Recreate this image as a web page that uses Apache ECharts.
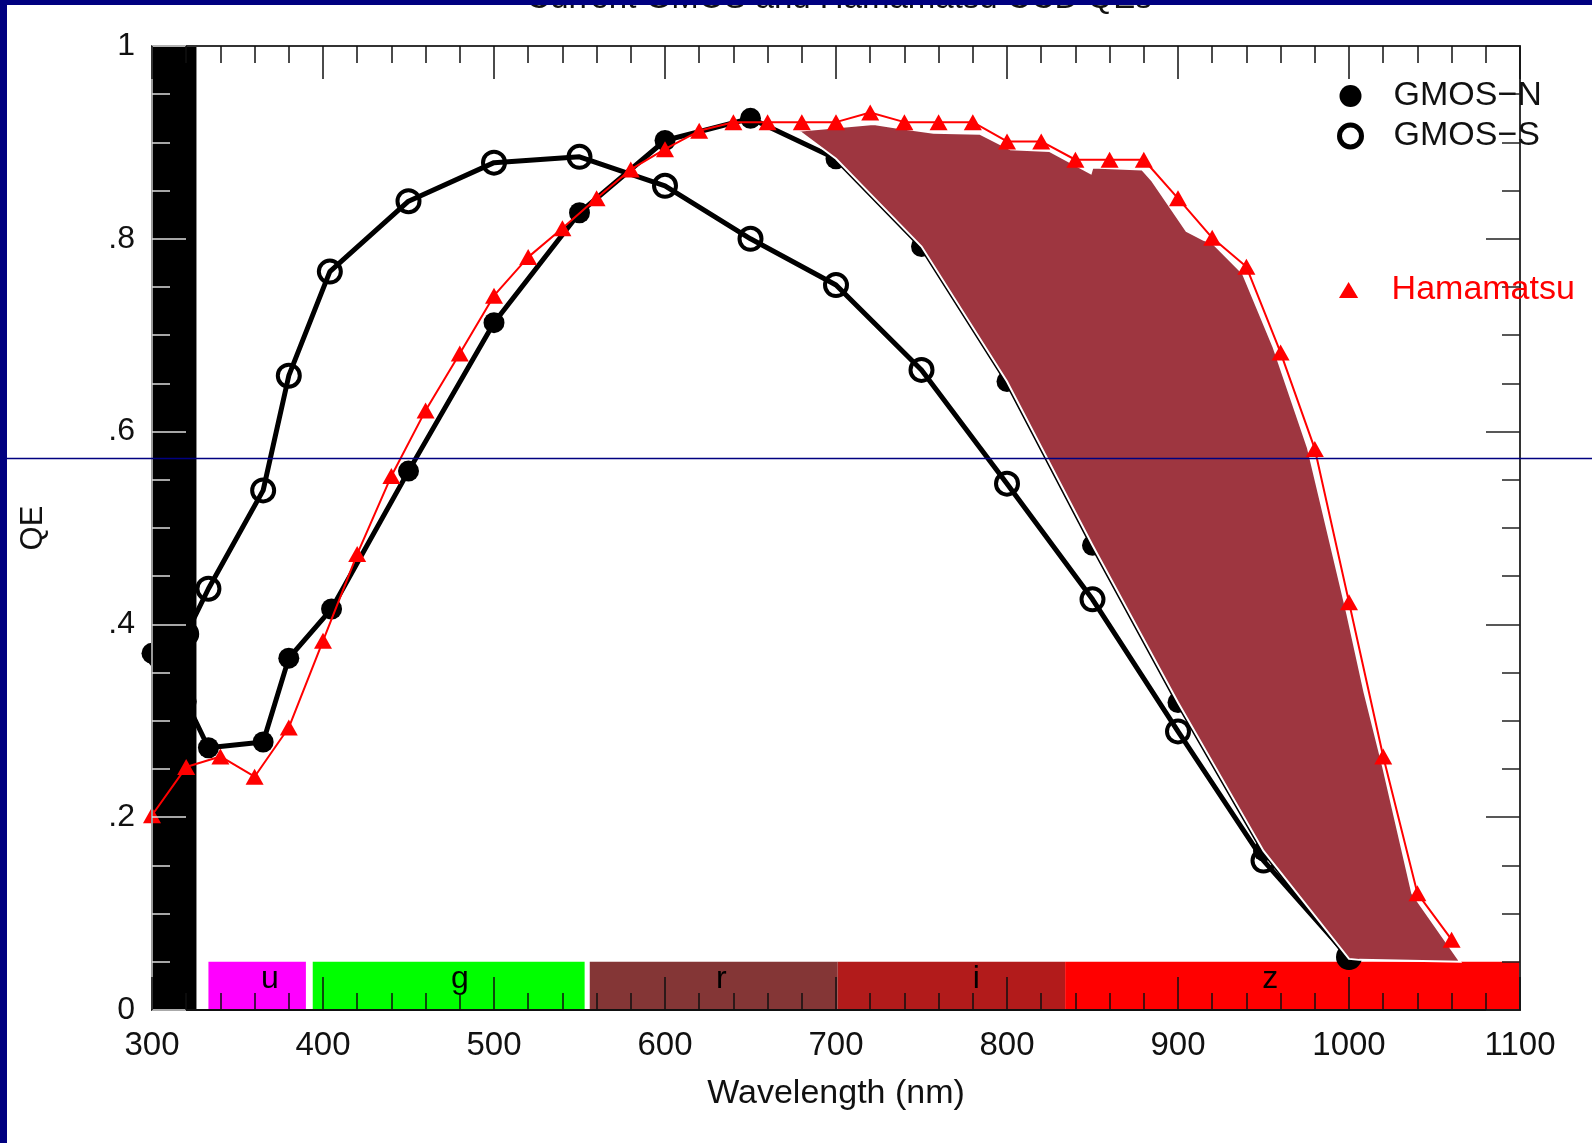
<!DOCTYPE html>
<html><head><meta charset="utf-8">
<script src="https://cdn.jsdelivr.net/npm/echarts@6/dist/echarts.min.js"></script>
<style>html,body{margin:0;padding:0;background:#fff;overflow:hidden}#c{width:1592px;height:1143px}</style>
</head><body><div id="c"></div>
<script>
// ---- data ----
const nmGmosS = [305,320,333,365,380,404,450,500,550,600,650,700,750,800,850,900,950,1000];
const qeGmosS = [0.366,0.39,0.437,0.539,0.658,0.766,0.839,0.879,0.885,0.855,0.800,0.752,0.664,0.546,0.426,0.289,0.155,0.055];
const nmGmosN = [300,320,333,365,380,405,450,500,550,600,650,700,750,800,850,900,950,1000];
const qeGmosN = [0.37,0.32,0.272,0.278,0.365,0.416,0.559,0.713,0.827,0.902,0.925,0.883,0.792,0.652,0.482,0.319,0.165,0.053];
const nmHama = [300,320,340,360,380,400,420,440,460,480,500,520,540,560,580,600,620,640,660,680,700,720,740,760,780,800,820,840,860,880,900,920,940,960,980,1000,1020,1040,1060];
const qeHama = [0.202,0.252,0.263,0.242,0.293,0.383,0.473,0.554,0.622,0.681,0.741,0.781,0.811,0.842,0.872,0.893,0.912,0.921,0.921,0.921,0.921,0.931,0.921,0.921,0.921,0.901,0.901,0.882,0.882,0.882,0.842,0.801,0.771,0.682,0.582,0.423,0.263,0.121,0.073];
// shaded gain region boundary (nm, QE)
const shadeNm = [678,696,722,737,757,784,802,825,849,850,879,885,897,905,915,920,938,956,976,999,1009,1020,1037,1065,1006,1000,950,900,850,800,750,700];
const shadeQe = [0.912,0.915,0.919,0.915,0.910,0.909,0.893,0.891,0.868,0.874,0.872,0.860,0.829,0.808,0.799,0.796,0.764,0.687,0.583,0.411,0.33,0.252,0.121,0.050,0.052,0.053,0.165,0.319,0.482,0.652,0.792,0.883];
// filter bands
const bandNames = ['u','g','r','i','z'];
const bandStart = [333,394,556,701,834];
const bandEnd   = [390,553,701,834,1100];
const bandLabelNm = [369,480,633,782,954];
const bandTopQe = 0.05;
const bandLabelQe = 0.032;
// blocked-out UV region
const blockedNm = [300, 326];
// tick labels
const yTickLabels = ['0','.2','.4','.6','.8','1'];

// ---- styles ----
const FONT = '"Liberation Sans", Arial, Helvetica, sans-serif';
const bandColors = ['#ff00ff','#00ff00','#843636','#b21b1b','#ff0000'];
const NAVY = '#000080';
const nameN = 'GMOS\u2212N', nameS = 'GMOS\u2212S', nameH = 'Hamamatsu';

const chart = echarts.init(document.getElementById('c'), null, {renderer:'canvas'});

function xAxisCfg(pos, showLabel, lineColor){
  return {
    type:'value', position:pos, min:300, max:1100, interval:100, z:6,
    axisLine:{show:true, onZero:false, lineStyle:{color:lineColor, width:2}},
    axisTick:{show:true, inside:true, length:33, lineStyle:{color:'#111', width:1.5}},
    minorTick:{show:true, splitNumber:5, length:17, lineStyle:{color:'#111', width:1.5}},
    axisLabel:{show:showLabel, fontSize:33, color:'#111', fontFamily:FONT, margin:19,
      formatter: v => String(v)},
    splitLine:{show:false}
  };
}
function yAxisCfg(pos, showLabel, lineColor, tickColor){
  return {
    type:'value', position:pos, min:0, max:1, interval:0.2, z:6,
    axisLine:{show:true, onZero:false, lineStyle:{color:lineColor, width:2}},
    axisTick:{show:true, inside:true, length:34, lineStyle:{color:tickColor, width:1.5}},
    minorTick:{show:true, splitNumber:4, length:18, lineStyle:{color:tickColor, width:1.5}},
    axisLabel:{show:showLabel, fontSize:32, color:'#111', fontFamily:FONT, margin:17,
      formatter: v => yTickLabels[Math.round(v/0.2)]},
    splitLine:{show:false}
  };
}
const xa = xAxisCfg('bottom', true, '#111');
xa.name = 'Wavelength (nm)'; xa.nameLocation='middle'; xa.nameGap = 67;
xa.nameTextStyle = {fontSize:34, color:'#111', fontFamily:FONT};
const xt = xAxisCfg('top', false, '#333');
const ya = yAxisCfg('left', true, '#999', '#ddd');
ya.name = 'QE'; ya.nameLocation='middle'; ya.nameGap = 103; ya.nameRotate = 90;
ya.nameTextStyle = {fontSize:31, color:'#111', fontFamily:FONT};
const yr = yAxisCfg('right', false, '#333', '#222');

const option = {
  animation:false,
  backgroundColor:'#fff',
  grid:{left:152, right:72, top:46, bottom:133, containLabel:false},
  xAxis:[xa, xt],
  yAxis:[ya, yr],
  legend:[
    {data:[{name:nameN, icon:'circle'},
           {name:nameS, icon:'circle', itemStyle:{color:'#fff', borderColor:'#000', borderWidth:5}}],
     orient:'vertical', left:1337, top:79, itemWidth:76, itemHeight:22, itemGap:6, padding:0,
     selectedMode:false, z:7, textStyle:{fontSize:34, color:'#111', fontFamily:FONT}},
    {data:[{name:nameH, icon:'path://M9,0L18,15L0,15Z', itemStyle:{color:'#ff0000'}}],
     orient:'vertical', left:1339, top:273, itemWidth:76, itemHeight:16, padding:0,
     selectedMode:false, z:7, textStyle:{fontSize:34, color:'#ff0000', fontFamily:FONT}}
  ],
  series:[
    { type:'custom', name:'bands', z:1, silent:true, clip:false,
      data: bandNames.map((n,i)=>[bandStart[i], bandEnd[i], bandLabelNm[i], i]),
      encode:{x:[0,1,2]},
      renderItem:(params, api)=>{
        const i = api.value(3);
        const p0 = api.coord([api.value(0), bandTopQe]);
        const p1 = api.coord([api.value(1), 0]);
        const pl = api.coord([api.value(2), bandLabelQe]);
        return {type:'group', children:[
          {type:'rect', shape:{x:p0[0], y:p0[1], width:p1[0]-p0[0], height:p1[1]-p0[1]}, style:{fill:bandColors[i]}},
          {type:'text', x:pl[0], y:pl[1], style:{text:bandNames[i], fill:'#000', font:'32px '+FONT, align:'center', verticalAlign:'middle'}}
        ]};
      }
    },
    { type:'custom', name:'blocked', z:2, silent:true,
      data:[[blockedNm[0], blockedNm[1]]],
      encode:{x:[0,1]},
      renderItem:(params, api)=>{
        const p0 = api.coord([api.value(0), 1]);
        const p1 = api.coord([api.value(1), 0]);
        return {type:'rect', shape:{x:p0[0], y:p0[1], width:p1[0]-p0[0], height:p1[1]-p0[1]}, style:{fill:'#000'}};
      }
    },
    { type:'line', name:nameS, z:3, data:nmGmosS.map((x,i)=>[x,qeGmosS[i]]),
      symbol:'circle', symbolSize:22, showAllSymbol:true,
      itemStyle:{color:'rgba(0,0,0,0)', borderColor:'#000', borderWidth:4},
      lineStyle:{color:'#000', width:5}, emphasis:{disabled:true} },
    { type:'line', name:nameN, z:3, data:nmGmosN.map((x,i)=>[x,qeGmosN[i]]),
      symbol:'circle', symbolSize:21, showAllSymbol:true,
      itemStyle:{color:'#000'},
      lineStyle:{color:'#000', width:5}, emphasis:{disabled:true} },
    { type:'custom', name:'shade', z:4, silent:true,
      data:[[shadeNm[0], shadeQe[0]]],
      renderItem:(params, api)=>{
        const pts = shadeNm.map((x,i)=>api.coord([x, shadeQe[i]]));
        return {type:'polygon', shape:{points:pts}, style:{fill:'#9e3640', stroke:'#fff', lineWidth:2}};
      }
    },
    { type:'line', name:nameH, z:5, data:nmHama.map((x,i)=>[x,qeHama[i]]),
      symbol:'triangle', symbolSize:[18,16], showAllSymbol:true,
      itemStyle:{color:'#ff0000'},
      lineStyle:{color:'#ff0000', width:2}, emphasis:{disabled:true} }
  ],
  graphic:{elements:[
    {type:'text', x:839, y:15, z:50, silent:true,
     style:{text:'Current GMOS and Hamamatsu CCD QEs', font:'33px '+FONT, fill:'#111', align:'center', verticalAlign:'bottom'}},
    {type:'rect', z:100, silent:true, shape:{x:0,y:0,width:1592,height:5}, style:{fill:NAVY}},
    {type:'rect', z:100, silent:true, shape:{x:0,y:0,width:7,height:1143}, style:{fill:NAVY}},
    {type:'line', z:100, silent:true, shape:{x1:7,y1:458.5,x2:1592,y2:458.5}, style:{stroke:NAVY, lineWidth:1.5}}
  ]}
};
chart.setOption(option);
</script>
</body></html>
